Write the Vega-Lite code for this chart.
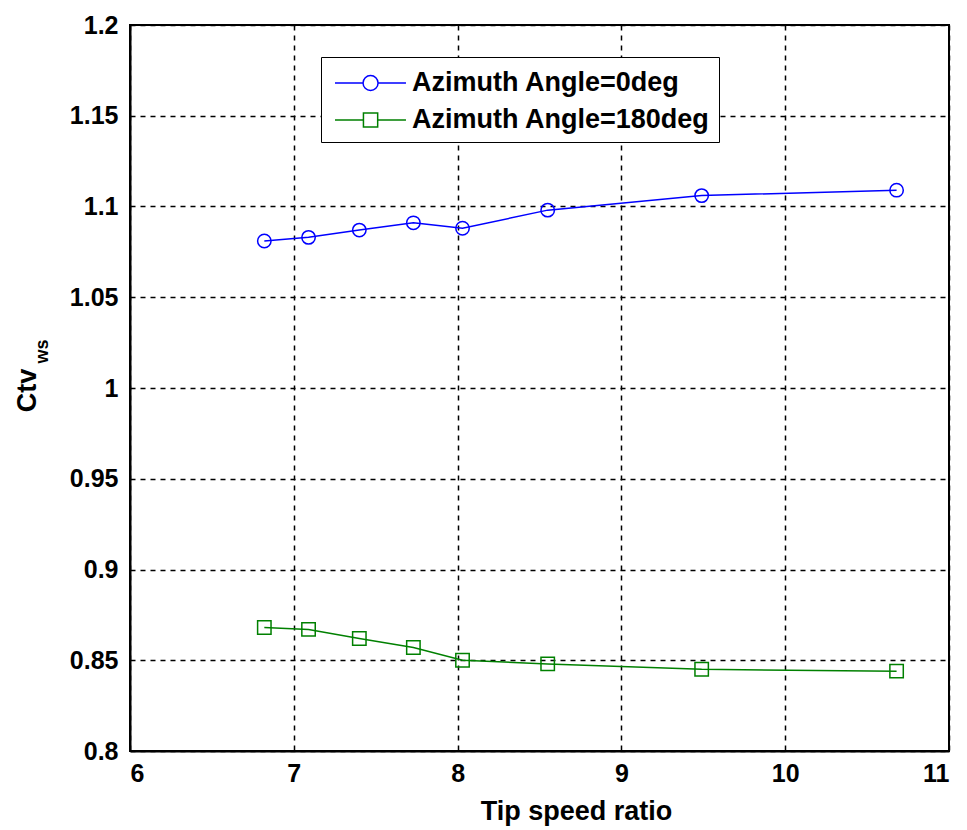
{
  "$schema": "https://vega.github.io/schema/vega-lite/v6.json",
  "width": 819,
  "height": 726,
  "autosize": "none",
  "padding": {"left": 130, "top": 25, "right": 18, "bottom": 79},
  "background": "white",
  "config": {
    "font": "Liberation Sans",
    "view": {"stroke": "black", "strokeWidth": 2},
    "legend": {"strokeColor": "black", "fillColor": "white", "cornerRadius": 0},
    "axis": {
      "labelFont": "Liberation Sans",
      "labelFontWeight": "bold",
      "labelFontSize": 25,
      "labelColor": "black",
      "titleFont": "Liberation Sans",
      "titleFontWeight": "bold",
      "titleFontSize": 27,
      "titleColor": "black",
      "domainColor": "black",
      "domainWidth": 2,
      "ticks": false,
      "grid": true,
      "gridColor": "black",
      "gridOpacity": 1,
      "gridWidth": 1.5,
      "gridDash": [5, 5]
    }
  },
  "data": {
    "values": [
      {"tsr": 6.82, "ctv": 1.081, "series": "Azimuth Angle=0deg"},
      {"tsr": 7.09, "ctv": 1.083, "series": "Azimuth Angle=0deg"},
      {"tsr": 7.40, "ctv": 1.087, "series": "Azimuth Angle=0deg"},
      {"tsr": 7.73, "ctv": 1.091, "series": "Azimuth Angle=0deg"},
      {"tsr": 8.03, "ctv": 1.088, "series": "Azimuth Angle=0deg"},
      {"tsr": 8.55, "ctv": 1.098, "series": "Azimuth Angle=0deg"},
      {"tsr": 9.49, "ctv": 1.106, "series": "Azimuth Angle=0deg"},
      {"tsr": 10.68, "ctv": 1.109, "series": "Azimuth Angle=0deg"},
      {"tsr": 6.82, "ctv": 0.868, "series": "Azimuth Angle=180deg"},
      {"tsr": 7.09, "ctv": 0.867, "series": "Azimuth Angle=180deg"},
      {"tsr": 7.40, "ctv": 0.862, "series": "Azimuth Angle=180deg"},
      {"tsr": 7.73, "ctv": 0.857, "series": "Azimuth Angle=180deg"},
      {"tsr": 8.03, "ctv": 0.850, "series": "Azimuth Angle=180deg"},
      {"tsr": 8.55, "ctv": 0.848, "series": "Azimuth Angle=180deg"},
      {"tsr": 9.49, "ctv": 0.845, "series": "Azimuth Angle=180deg"},
      {"tsr": 10.68, "ctv": 0.844, "series": "Azimuth Angle=180deg"}
    ]
  },
  "layer": [
    {
      "mark": {"type": "line", "strokeWidth": 1.5},
      "encoding": {
        "x": {
          "field": "tsr", "type": "quantitative",
          "scale": {"domain": [6, 11], "nice": false, "zero": false},
          "axis": {"title": "Tip speed ratio", "format": "d", "values": [6, 7, 8, 9, 10, 11], "labelPadding": 10, "titleX": 446, "titleY": 47, "titleBaseline": "top"}
        },
        "y": {
          "field": "ctv", "type": "quantitative",
          "scale": {"domain": [0.8, 1.2], "nice": false, "zero": false},
          "axis": {"title": "Ctv", "format": ".2~f", "values": [0.8, 0.85, 0.9, 0.95, 1, 1.05, 1.1, 1.15, 1.2], "labelPadding": 12, "titleX": -95, "titleY": 365, "titleBaseline": "alphabetic"}
        },
        "color": {
          "field": "series", "type": "nominal",
          "scale": {"domain": ["Azimuth Angle=0deg", "Azimuth Angle=180deg"], "range": ["#0000ff", "#008000"]},
          "legend": {
            "title": null,
            "orient": "none",
            "legendX": 191,
            "legendY": 32,
            "padding": 9,
            "labelFont": "Liberation Sans",
            "labelFontWeight": "bold",
            "labelFontSize": 27,
            "labelColor": "black",
            "labelLimit": 500,
            "labelOffset": 48,
            "rowPadding": 7,
            "symbolSize": 1000,
            "symbolFillColor": "transparent"
          }
        }
      }
    },
    {
      "transform": [{"filter": "datum.series == 'Azimuth Angle=0deg'"}],
      "mark": {"type": "point", "filled": false, "strokeWidth": 1.5, "opacity": 1, "shape": "circle"},
      "encoding": {
        "x": {"field": "tsr", "type": "quantitative"},
        "y": {"field": "ctv", "type": "quantitative", "axis": null},
        "color": {"field": "series", "type": "nominal"},
        "size": {"value": 180}
      }
    },
    {
      "transform": [{"filter": "datum.series == 'Azimuth Angle=180deg'"}],
      "mark": {"type": "point", "filled": false, "strokeWidth": 1.5, "opacity": 1, "shape": "square"},
      "encoding": {
        "x": {"field": "tsr", "type": "quantitative"},
        "y": {"field": "ctv", "type": "quantitative", "axis": null},
        "color": {"field": "series", "type": "nominal"},
        "size": {"value": 180}
      }
    },
    {
      "transform": [{"filter": "datum.tsr > 100"}],
      "mark": {"type": "point", "filled": false, "strokeWidth": 1.5},
      "encoding": {
        "x": {"field": "tsr", "type": "quantitative"},
        "y": {"field": "ctv", "type": "quantitative", "axis": null},
        "color": {"field": "series", "type": "nominal"},
        "shape": {
          "field": "series", "type": "nominal",
          "scale": {
            "domain": ["Azimuth Angle=0deg", "Azimuth Angle=180deg"],
            "range": [
              "M-0.76,0H1.015M1.965,0H3.73M1.965,0A0.475,0.475 0 1,1 1.015,0A0.475,0.475 0 1,1 1.965,0",
              "M-0.76,0H1.04M1.94,0H3.73M1.04,-0.45H1.94V0.45H1.04Z"
            ]
          }
        }
      }
    },
    {
      "mark": {"type": "point", "opacity": 0},
      "encoding": {
        "x": {"field": "tsr", "type": "quantitative"},
        "y": {
          "field": "ctv", "type": "quantitative",
          "axis": {"title": "ws", "titleFontSize": 18, "titleX": -83, "titleY": 326, "titleBaseline": "alphabetic", "labels": false, "grid": false, "domain": false, "ticks": false, "orient": "left"}
        }
      }
    }
  ],
  "resolve": {"axis": {"y": "independent"}}
}
